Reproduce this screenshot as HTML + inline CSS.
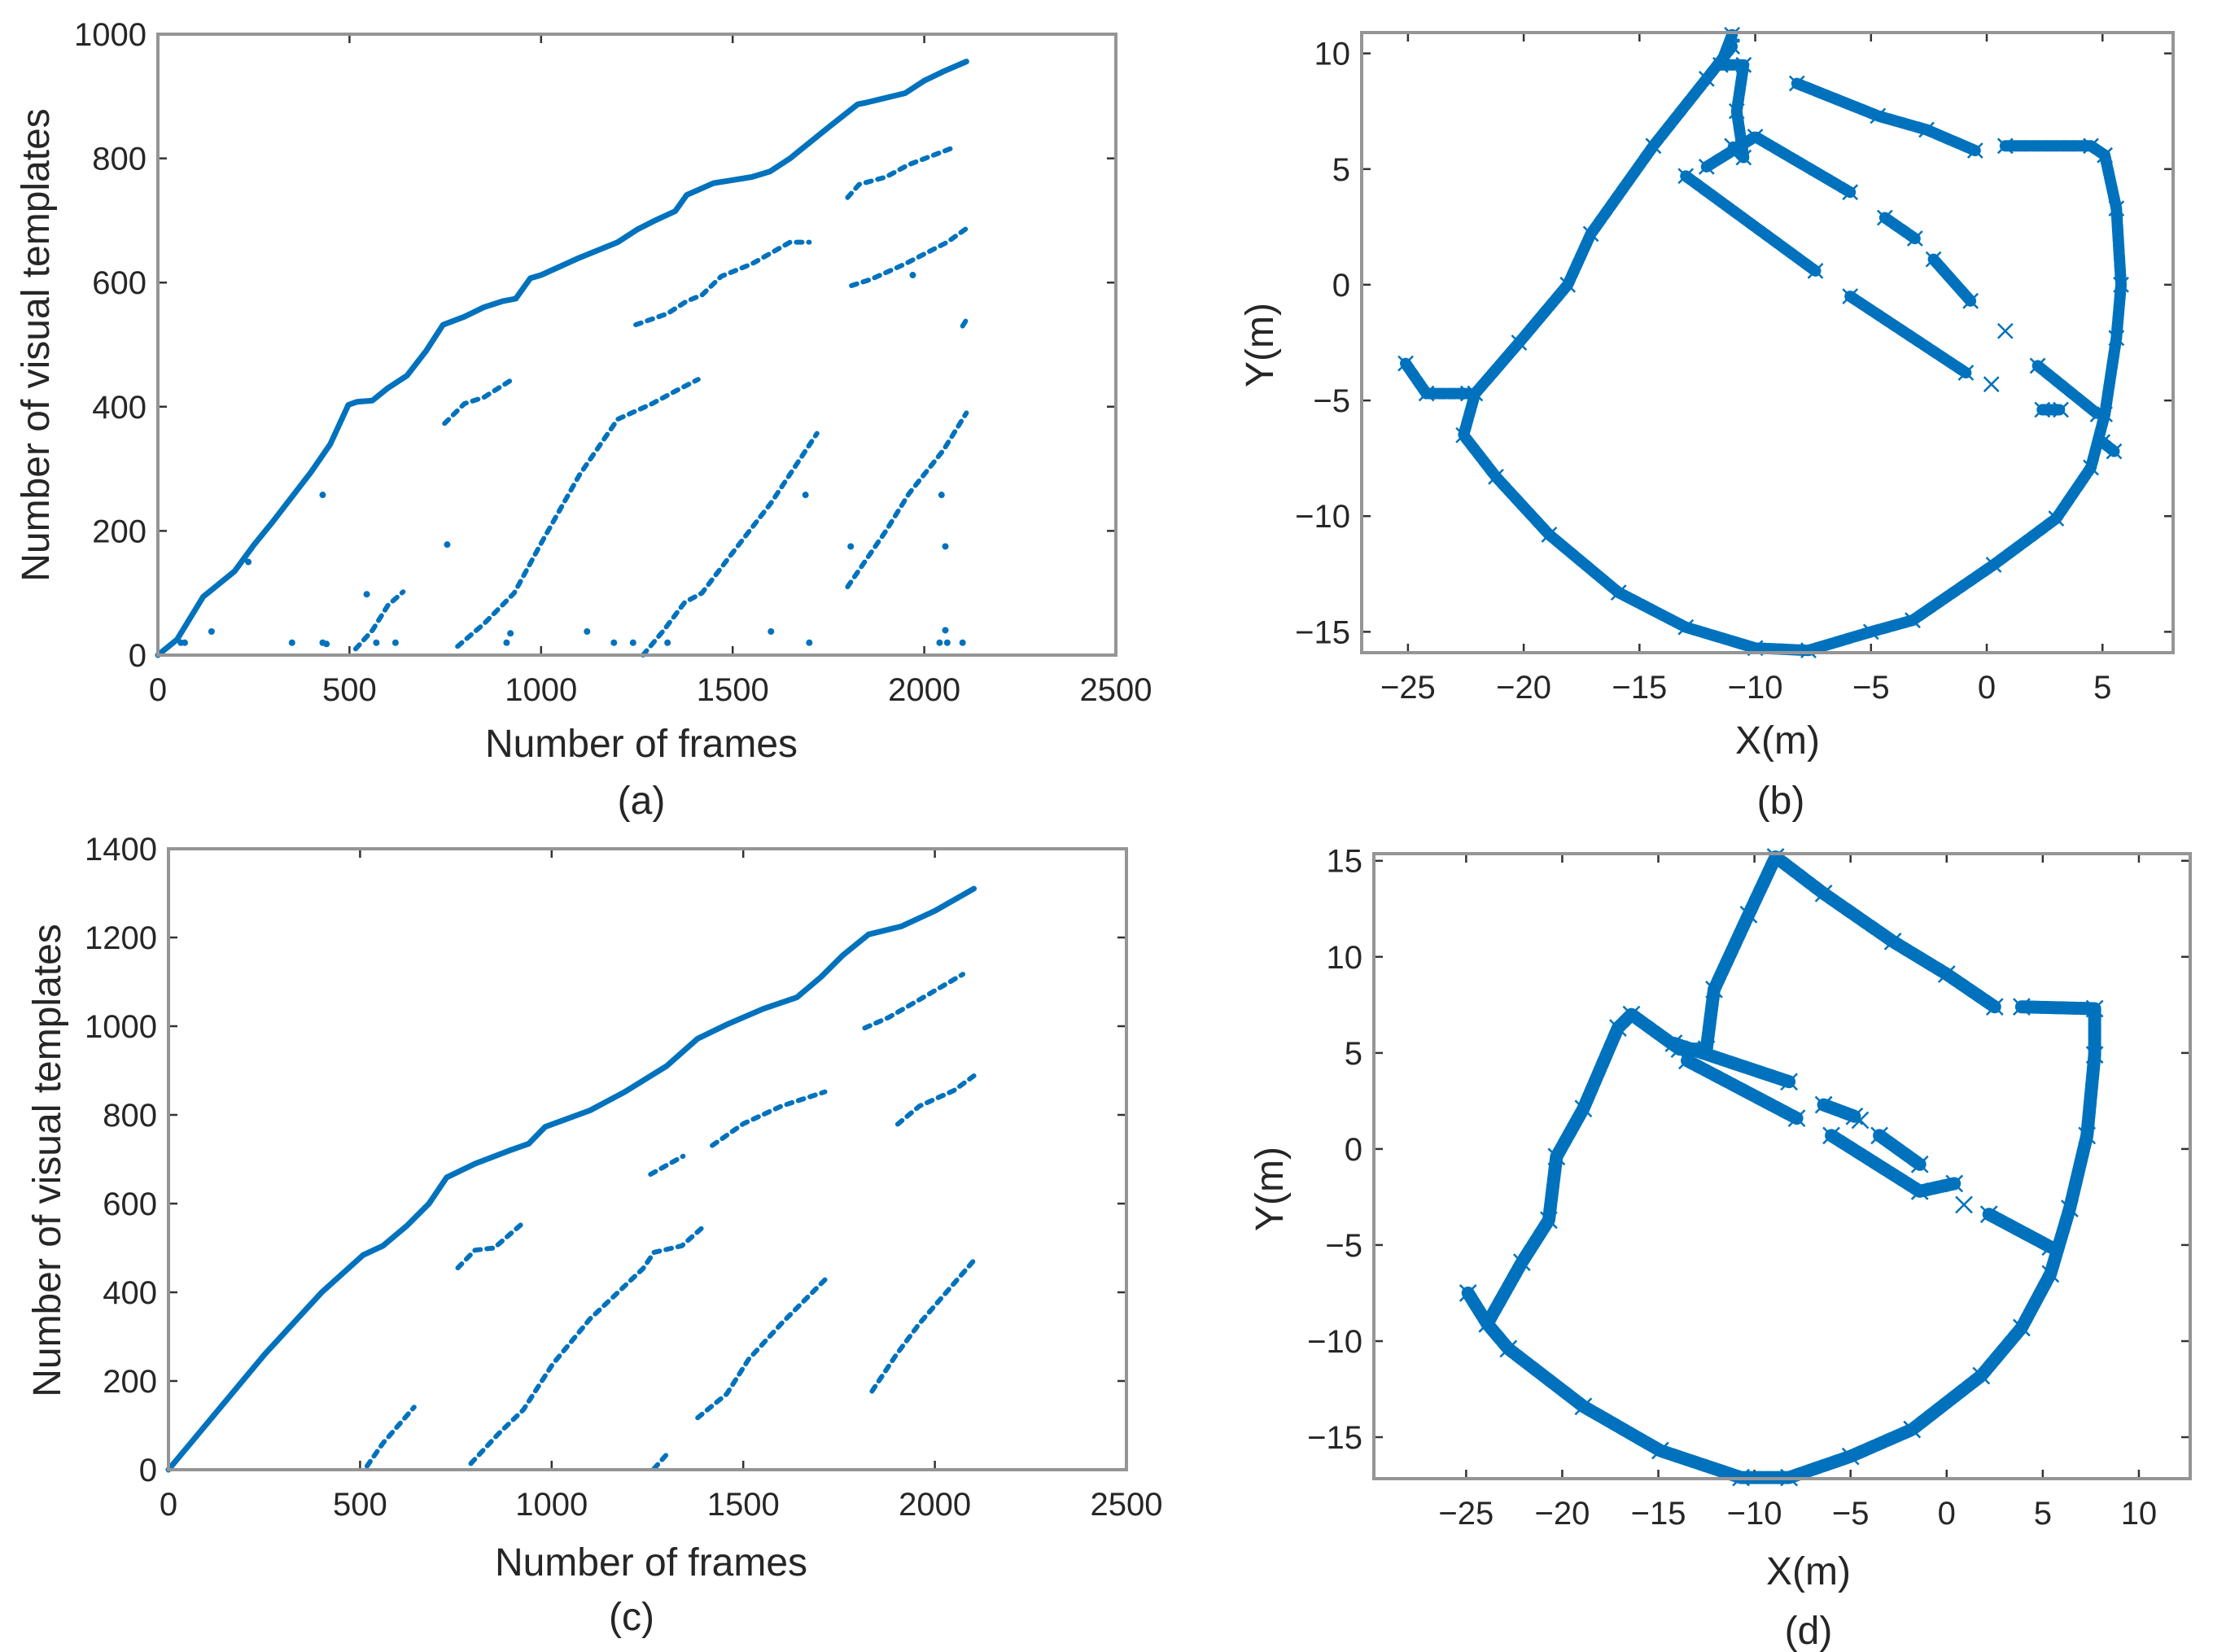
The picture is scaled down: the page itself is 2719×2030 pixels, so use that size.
<!DOCTYPE html>
<html><head><meta charset="utf-8"><style>
html,body{margin:0;padding:0;background:#fff}
svg{display:block}
text{font-family:"Liberation Sans",Arial,sans-serif;fill:#262626}
</style></head><body>
<svg id="fig" width="2719" height="2030" viewBox="0 0 2719 2030" xmlns="http://www.w3.org/2000/svg"></svg>
<script>
// ---------- Panel (a) data: frames vs visual templates ----------
const aMainX = [0,50,118,200,250,300,350,400,450,497,520,560,600,650,700,744,800,850,900,934,972,1000,1100,1200,1250,1294,1350,1380,1450,1550,1598,1650,1674,1750,1826,1850,1950,2000,2050,2110];
const aMainY = [0,25,94,135,177,215,255,295,340,403,408,410,430,450,490,532,545,560,570,574,607,612,640,665,685,699,715,741,760,770,779,800,812,850,887,890,905,925,940,956];
const aSegs = [
  {x:[516,560,600,640], y:[10,40,80,102]},
  {x:[748,800,850,925], y:[373,405,415,444]},
  {x:[782,850,930,1000,1100,1200,1290,1350,1410], y:[14,50,100,180,290,380,405,425,444]},
  {x:[1266,1320,1375,1420,1500,1600,1720], y:[0,40,85,100,165,245,357]},
  {x:[1800,1900,1960,2050,2110], y:[110,200,260,330,390]},
  {x:[1247,1330,1380,1420,1470,1550,1650,1700], y:[532,550,570,580,610,630,665,665]},
  {x:[1800,1830,1900,1960,2070], y:[737,758,770,790,816]},
  {x:[1810,1860,1950,2060,2110], y:[595,605,630,665,687]},
  {x:[2100,2110], y:[530,540]}
];
const aOutX = [430,755,545,140,236,1120,1600,1808,2055,2045,1690,60,70,350,430,440,570,620,910,920,1190,1240,1330,1700,2040,2055,2100,2060,1970];
const aOutY = [258,178,98,38,150,38,38,175,175,258,258,20,20,20,20,18,20,20,20,35,20,20,20,20,20,40,20,20,612];
const aXTicks = [0,500,1000,1500,2000,2500];
const aYTicks = [0,200,400,600,800,1000];

// ---------- Panel (c) data ----------
const cMainX = [0,252,400,508,560,622,680,726,800,888,940,983,1100,1191,1300,1381,1460,1552,1640,1703,1760,1827,1912,2000,2102];
const cMainY = [0,261,400,484,505,550,600,659,690,719,735,773,810,852,910,972,1005,1039,1065,1111,1160,1207,1225,1260,1310];
const cSegs = [
  {x:[518,560,600,641], y:[8,60,100,141]},
  {x:[755,800,850,926], y:[455,495,500,557]},
  {x:[789,860,926,1002,1100,1239,1267,1340,1400], y:[14,80,135,237,340,454,490,505,551]},
  {x:[1267,1305], y:[2,39]},
  {x:[1381,1457,1514,1600,1722], y:[117,171,249,330,436]},
  {x:[1836,1900,1960,2030,2102], y:[177,260,330,400,472]},
  {x:[1258,1343], y:[666,707]},
  {x:[1419,1500,1600,1713], y:[731,780,820,852]},
  {x:[1817,1880,1960,2073], y:[996,1020,1060,1117]},
  {x:[1903,1960,2050,2102], y:[779,820,855,888]}
];
const cXTicks = [0,500,1000,1500,2000,2500];
const cYTicks = [0,200,400,600,800,1000,1200,1400];

// ---------- Panel (b) data: trajectory X(m), Y(m) ----------
const bPaths = [
  {x:[-11,-12.1,-14.4,-17.1,-18.1,-20.2,-22.1,-22.6,-21.2,-18.9,-15.9,-13,-10,-7.7,-5,-3.2,0.3,3,4.5,5.1,5.6,5.8,5.6,5.1,4.5,0.8],
   y:[10.3,8.9,6.0,2.2,0,-2.5,-4.7,-6.5,-8.3,-10.8,-13.3,-14.8,-15.7,-15.8,-15.0,-14.5,-12.1,-10.1,-7.9,-5.6,-2.3,0,3.3,5.6,6.0,6.0]},
  {x:[-25.1,-24.2,-22.4], y:[-3.4,-4.7,-4.7]},
  {x:[-11,-11.5,-10.5,-10.8,-10.5,-11], y:[10.8,9.5,9.5,7.5,5.5,6]},
  {x:[-8.2,-4.7,-2.6,-0.5], y:[8.7,7.3,6.7,5.8]},
  {x:[-12.1,-10,-5.9], y:[5.1,6.4,4.0]},
  {x:[-13,-7.4], y:[4.7,0.6]},
  {x:[-4.4,-3.1], y:[2.9,2.0]},
  {x:[-2.3,-0.7], y:[1.1,-0.7]},
  {x:[-5.9,-0.9], y:[-0.5,-3.8]},
  {x:[2.2,4.8], y:[-3.5,-5.6]},
  {x:[2.4,3.2], y:[-5.4,-5.4]},
  {x:[5,5.5], y:[-6.8,-7.2]}
];
const bSingleX = [0.8,0.2];
const bSingleY = [-2.0,-4.3];
const bXTicks = [-25,-20,-15,-10,-5,0,5];
const bYTicks = [-15,-10,-5,0,5,10];

// ---------- Panel (d) data ----------
const dPaths = [
  {x:[-24.9,-23.9,-22.1,-20.7,-20.3,-18.9,-17.1,-16.4,-13.9,-12.5,-12.1,-10.3,-8.9,-6.4,-2.8,0,2.5],
   y:[-7.5,-9.1,-5.9,-3.7,-0.4,2.1,6.3,7.0,5.2,5.2,8.3,12.2,15.2,13.3,10.8,9.1,7.4]},
  {x:[3.9,7.7,7.7,7.3,6.4,5.4,3.9,1.8,-1.8,-5,-8.2,-10.7,-14.9,-18.9,-22.8,-23.9],
   y:[7.4,7.3,4.9,0.7,-3.1,-6.5,-9.3,-11.8,-14.6,-16,-17.1,-17.1,-15.7,-13.4,-10.4,-9.1]},
  {x:[-14.2,-8.2], y:[5.5,3.5]},
  {x:[-13.5,-7.8], y:[4.6,1.6]},
  {x:[-6.4,-4.8], y:[2.3,1.7]},
  {x:[-6.0,-1.4,0.4], y:[0.7,-2.2,-1.8]},
  {x:[-3.5,-1.4], y:[0.7,-0.8]},
  {x:[2.2,5.4], y:[-3.4,-5.1]}
];
const dSingleX = [0.9,-4.5];
const dSingleY = [-2.9,1.5];
const dXTicks = [-25,-20,-15,-10,-5,0,5,10];
const dYTicks = [-15,-10,-5,0,5,10,15];

const NS = "http://www.w3.org/2000/svg";
const svg = document.getElementById('fig');
const BLUE = "#0072BD";
function mk(tag, attrs, parent){
  const e = document.createElementNS(NS, tag);
  for (const k in attrs) e.setAttribute(k, attrs[k]);
  (parent||svg).appendChild(e);
  return e;
}
function fmt(v){ return v<0 ? "\u2212"+Math.abs(v) : String(v); }

function makeAxes(p){
  const g = mk('g', {});
  
  
  const sx = v => p.L + (v - p.x0)/(p.x1 - p.x0)*(p.R - p.L);
  const sy = v => p.B - (v - p.y0)/(p.y1 - p.y0)*(p.B - p.T);
  p.xt.forEach(t => {
    const X = sx(t);
    if (X < p.L-1 || X > p.R+1) return;
    const tk = mk('path', {d:`M${X},${p.B}v-11M${X},${p.T}v11`, stroke:'#333', 'stroke-width':2.5}, g);
    
    
    const lb = mk('text', {x:X, y:p.B+56, 'text-anchor':'middle', 'font-size':40}, g);
    
    
    lb.textContent = fmt(t);
  });
  p.yt.forEach(t => {
    const Y = sy(t);
    const tk = mk('path', {d:`M${p.L},${Y}h11M${p.R},${Y}h-11`, stroke:'#333', 'stroke-width':2.5}, g);
    
    
    const lb = mk('text', {x:p.L-14, y:Y+14, 'text-anchor':'end', 'font-size':40}, g);
    
    
    lb.textContent = fmt(t);
  });
  const xt = mk('text', {x:p.xtx, y:p.xty, 'text-anchor':'middle', 'font-size':48}, g);
  
  
  xt.textContent = p.xlabel;
  const yt = mk('text', {x:0, y:0, 'text-anchor':'middle', 'font-size':48, transform:`translate(${p.ytx},${p.yty}) rotate(-90)`}, g);
  
  
  yt.textContent = p.ylabel;
  const cap = mk('text', {x:p.capx, y:p.capy, 'text-anchor':'middle', 'font-size':48}, g);
  
  
  cap.textContent = p.cap;
  const plot = mk('g', {}, g);
  
  
  return {g, plot, sx, sy, p};
}
function frame(ax){
  const p = ax.p;
  const r = mk('rect', {x:p.L, y:p.T, width:p.R-p.L, height:p.B-p.T, fill:'none', stroke:'#959595', 'stroke-width':4}, ax.g);
  
  
}
function line(ax, xs, ys, w, dash, name){
  const d = xs.map((v,i)=>(i?'L':'M')+ax.sx(v).toFixed(1)+','+ax.sy(ys[i]).toFixed(1)).join('');
  const a = {d, fill:'none', stroke:BLUE, 'stroke-width':w, 'stroke-linecap':'round', 'stroke-linejoin':'round'};
  if (dash) a['stroke-dasharray'] = dash;
  const e = mk('path', a, ax.plot);
  
  
}
function dots(ax, xs, ys, r, name){
  xs.forEach((v,i)=>{
    const e = mk('circle', {cx:ax.sx(v), cy:ax.sy(ys[i]), r, fill:BLUE}, ax.plot);
    
    
  });
}
function crosses(ax, xs, ys, s, name){
  xs.forEach((v,i)=>{
    const X = ax.sx(v), Y = ax.sy(ys[i]);
    const e = mk('path', {d:`M${X-s},${Y-s}L${X+s},${Y+s}M${X-s},${Y+s}L${X+s},${Y-s}`, stroke:BLUE, 'stroke-width':2.5, fill:'none'}, ax.plot);
    
    
  });
}

const A = makeAxes({name:'panel-a', L:194, R:1371, T:42, B:805, x0:0, x1:2500, y0:0, y1:1000, xt:aXTicks, yt:aYTicks,
  xlabel:'Number of frames', ylabel:'Number of visual templates', xtx:788, xty:930, ytx:60, yty:424, cap:'(a)', capx:788, capy:1000});
line(A, aMainX, aMainY, 7, null, 'main-template-line');
aSegs.forEach(s => line(A, s.x, s.y, 6, '7 8', 'loop-closure-segment'));
dots(A, aOutX, aOutY, 4, 'outlier-point');
frame(A);

const C = makeAxes({name:'panel-c', L:207, R:1384, T:1043, B:1806, x0:0, x1:2500, y0:0, y1:1400, xt:cXTicks, yt:cYTicks,
  xlabel:'Number of frames', ylabel:'Number of visual templates', xtx:800, xty:1936, ytx:74, yty:1426, cap:'(c)', capx:776, capy:2003});
line(C, cMainX, cMainY, 7, null, 'main-template-line');
cSegs.forEach(s => line(C, s.x, s.y, 6, '7 8', 'loop-closure-segment'));
frame(C);

const Bx = makeAxes({name:'panel-b', L:1673, R:2670, T:40, B:802, x0:-27, x1:8.05, y0:-15.9, y1:10.9, xt:bXTicks, yt:bYTicks,
  xlabel:'X(m)', ylabel:'Y(m)', xtx:2184, xty:926, ytx:1564, yty:424, cap:'(b)', capx:2188, capy:1000});
bPaths.forEach(s => line(Bx, s.x, s.y, 14, '9 3', 'trajectory-segment'));
bPaths.forEach(s => crosses(Bx, s.x, s.y, 9, 'trajectory-marker'));
crosses(Bx, bSingleX, bSingleY, 9, 'trajectory-marker');
frame(Bx);

const D = makeAxes({name:'panel-d', L:1688, R:2691, T:1049, B:1817, x0:-29.8, x1:12.67, y0:-17.16, y1:15.37, xt:dXTicks, yt:dYTicks,
  xlabel:'X(m)', ylabel:'Y(m)', xtx:2222, xty:1947, ytx:1576, yty:1461, cap:'(d)', capx:2222, capy:2020});
dPaths.forEach(s => line(D, s.x, s.y, 16, '9 3', 'trajectory-segment'));
dPaths.forEach(s => crosses(D, s.x, s.y, 10, 'trajectory-marker'));
crosses(D, dSingleX, dSingleY, 10, 'trajectory-marker');
frame(D);
</script>
</body></html>
